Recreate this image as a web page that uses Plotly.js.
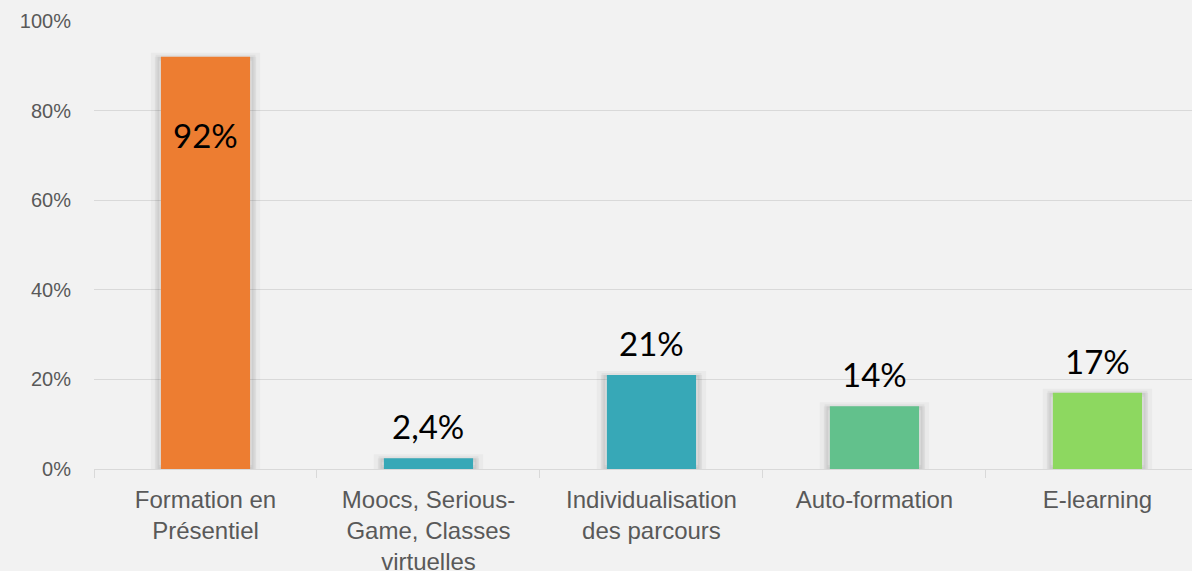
<!DOCTYPE html>
<html>
<head>
<meta charset="utf-8">
<script src="https://cdn.plot.ly/plotly-3.0.1.min.js"></script>
<style>
html,body{margin:0;padding:0;background:#f2f2f2;}
#chart{width:1192px;height:571px;}
</style>
</head>
<body>
<div id="chart"></div>
<script>
const categories = ["Formation en<br>Présentiel", "Moocs, Serious-<br>Game, Classes<br>virtuelles", "Individualisation<br>des parcours", "Auto-formation", "E-learning"];
const values = [92, 2.4, 21, 14, 17];
const valueLabels = ["92%", "2,4%", "21%", "14%", "17%"];
const barColors = ["#ED7D31", "#37A8B7", "#37A8B7", "#62C18C", "#8DD860"];
const yTickVals = [0, 20, 40, 60, 80, 100];
const yTickText = ["0%", "20%", "40%", "60%", "80%", "100%"];

const shadowOuter = {
  type: "bar", x: categories, y: values, width: 0.455,
  marker: {color: "rgba(0,0,0,0.035)", line: {color: "rgba(0,0,0,0.03)", width: 8}},
  hoverinfo: "skip", showlegend: false
};
const shadow = {
  type: "bar", x: categories, y: values, width: 0.43,
  marker: {color: "rgba(0,0,0,0.05)", line: {color: "rgba(0,0,0,0.04)", width: 4}},
  hoverinfo: "skip", showlegend: false
};
const bars = {
  type: "bar", x: categories, y: values, width: 0.4,
  marker: {color: barColors, line: {width: 0}},
  showlegend: false
};

const annotations = values.map((v, i) => ({
  x: categories[i], y: v, xref: "x", yref: "y",
  text: valueLabels[i], showarrow: false,
  yanchor: "middle", xanchor: "center",
  yshift: v > 50 ? -78 : 32,
  font: {family: "Lato, 'Open Sans', sans-serif", size: 33, color: "#000000"}
}));

const layout = {
  width: 1192, height: 571,
  paper_bgcolor: "#f2f2f2", plot_bgcolor: "#f2f2f2",
  margin: {l: 94, r: 0, t: 21, b: 102},
  barmode: "overlay",
  showlegend: false,
  xaxis: {
    type: "category", range: [-0.5, 4.424],
    showline: true, linecolor: "#d9d9d9", linewidth: 1,
    ticks: "outside", tickson: "boundaries", ticklen: 8, tickcolor: "#d9d9d9", tickwidth: 1,
    showgrid: false, zeroline: false,
    tickfont: {family: "'Liberation Sans', Arial, sans-serif", size: 24, color: "#595959"},
    ticklabelstandoff: 9
  },
  yaxis: {
    range: [0, 100], tickvals: yTickVals, ticktext: yTickText,
    showgrid: true, gridcolor: "#d9d9d9", gridwidth: 1,
    zeroline: false, showline: false, ticks: "",
    tickfont: {family: "'Liberation Sans', Arial, sans-serif", size: 20, color: "#595959"},
    ticklabelstandoff: 22
  },
  annotations: annotations
};

Plotly.newPlot("chart", [shadowOuter, shadow, bars], layout, {displayModeBar: false, staticPlot: true});
</script>
</body>
</html>
